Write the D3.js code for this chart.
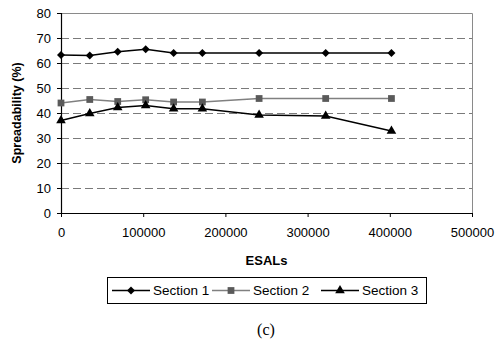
<!DOCTYPE html>
<html>
<head>
<meta charset="utf-8">
<script src="https://cdn.jsdelivr.net/npm/d3@7"></script>
<style>
  html, body { margin: 0; padding: 0; background: #fff; }
  svg { display: block; }
  text { fill: #000; }
</style>
</head>
<body>
<svg id="chart" width="495" height="342"></svg>
<script>
// ESAL counts at each measurement
const esals = [0, 35000, 69000, 103000, 137000, 172000, 241000, 322000, 402000];
// Spreadability (%) per section
const section1 = [63.2, 63, 64.5, 65.5, 64, 64, 64, 64, 64];
const section2 = [44, 45.4, 44.6, 45.3, 44.4, 44.4, 45.8, 45.8, 45.8];
const section3 = [37, 39.8, 42.2, 43, 41.7, 41.7, 39.2, 38.8, 32.8];
const seriesNames = ["Section 1", "Section 2", "Section 3"];
const xTicks = [0, 100000, 200000, 300000, 400000, 500000];
const yTicks = [0, 10, 20, 30, 40, 50, 60, 70, 80];

const SANS = "Liberation Sans, Arial, sans-serif";
const SERIF = "Liberation Serif, Times New Roman, serif";

const svg = d3.select("#chart");
const plotL = 61, plotR = 472, plotT = 13, plotB = 213;

const x = d3.scaleLinear().domain([0, 500000]).range([plotL, plotR]);
const y = d3.scaleLinear().domain([0, 80]).range([plotB, plotT]);

// dashed horizontal gridlines
svg.append("g").selectAll("line")
  .data(yTicks.filter(v => v > 0 && v < 80))
  .join("line")
  .attr("x1", plotL).attr("x2", plotR)
  .attr("y1", d => y(d) + 0.5).attr("y2", d => y(d) + 0.5)
  .attr("stroke", "#7a7a7a").attr("stroke-width", 1.2)
  .attr("stroke-dasharray", "8,4");

// plot frame: top and right edges
svg.append("path")
  .attr("d", `M${plotL},${plotT + 0.5}H${plotR + 0.5}V${plotB}`)
  .attr("fill", "none").attr("stroke", "#8a8a8a").attr("stroke-width", 1);

// axes
const yAxis = d3.axisLeft(y).tickValues(yTicks).tickSize(4).tickPadding(6).tickFormat(d3.format("d"));
const yG = svg.append("g").attr("transform", `translate(${plotL},0)`).call(yAxis);
const xAxis = d3.axisBottom(x).tickValues(xTicks).tickSize(4).tickPadding(11).tickFormat(d3.format("d"));
const xG = svg.append("g").attr("transform", `translate(0,${plotB})`).call(xAxis);
[yG, xG].forEach(g => {
  g.select(".domain").attr("stroke", "#000").attr("stroke-width", 1.2);
  g.selectAll(".tick line").attr("stroke", "#000");
  g.selectAll(".tick text").attr("font-size", 13).attr("font-family", SANS).attr("fill", "#000");
});
xG.select(".domain").attr("d", `M${plotL},0.5H${plotR}`);
yG.select(".domain").attr("d", `M0.5,${plotT}V${plotB}`);

// axis titles
svg.append("text")
  .attr("x", (plotL + plotR) / 2).attr("y", 265)
  .attr("text-anchor", "middle").attr("font-family", SANS)
  .attr("font-weight", "bold").attr("font-size", 13)
  .text("ESALs");
svg.append("text")
  .attr("transform", `translate(21,${(plotT + plotB) / 2}) rotate(-90)`)
  .attr("text-anchor", "middle").attr("font-family", SANS)
  .attr("font-weight", "bold").attr("font-size", 12.5)
  .text("Spreadability (%)");

// series styles
const styles = [
  { values: section1, line: "#000", fill: "#000", shape: d3.symbolSquare, size: 32, rot: 45 },
  { values: section2, line: "#808080", fill: "#5a5a5a", shape: d3.symbolSquare, size: 46, rot: 0 },
  { values: section3, line: "#000", fill: "#000", shape: d3.symbolTriangle, size: 40, rot: 0 }
];

const line = d3.line().x(d => x(d[0])).y(d => y(d[1]));

styles.forEach(s => {
  const pts = esals.map((e, i) => [e, s.values[i]]);
  svg.append("path").datum(pts)
    .attr("d", line).attr("fill", "none")
    .attr("stroke", s.line).attr("stroke-width", 1.3);
  svg.append("g").selectAll("path").data(pts).join("path")
    .attr("transform", d => `translate(${x(d[0])},${y(d[1])}) rotate(${s.rot})`)
    .attr("d", d3.symbol().type(s.shape).size(s.size))
    .attr("fill", s.fill);
});

// legend
const lg = svg.append("g");
lg.append("rect")
  .attr("x", 107.5).attr("y", 277.5).attr("width", 319).attr("height", 26)
  .attr("fill", "#fff").attr("stroke", "#000").attr("stroke-width", 1);
const legendX = [112, 212, 321];
styles.forEach((s, i) => {
  const x0 = legendX[i];
  lg.append("line").attr("x1", x0).attr("x2", x0 + 38)
    .attr("y1", 290.5).attr("y2", 290.5)
    .attr("stroke", s.line).attr("stroke-width", 1.3);
  lg.append("path")
    .attr("transform", `translate(${x0 + 19},290.5) rotate(${s.rot})`)
    .attr("d", d3.symbol().type(s.shape).size(s.size))
    .attr("fill", s.fill);
  lg.append("text").attr("x", x0 + 41).attr("y", 295)
    .attr("font-family", SANS).attr("font-size", 13.5).text(seriesNames[i]);
});

// panel caption
svg.append("text")
  .attr("x", 266).attr("y", 335)
  .attr("text-anchor", "middle")
  .attr("font-family", SERIF)
  .attr("font-size", 16)
  .text("(c)");
</script>
</body>
</html>
